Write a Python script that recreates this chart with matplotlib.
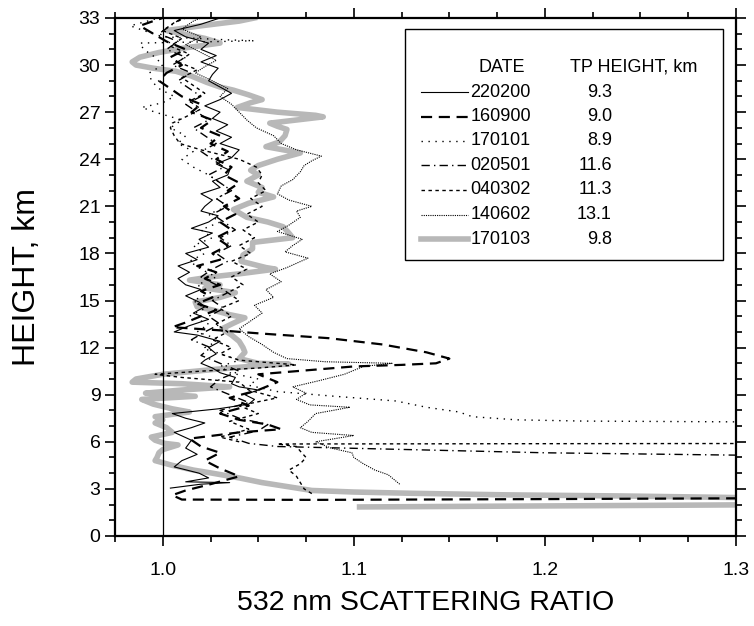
import matplotlib
matplotlib.use('Agg')
import matplotlib.pyplot as plt
from matplotlib.patches import Rectangle
from matplotlib.ticker import MultipleLocator

plt.rcParams['font.family'] = ['Liberation Sans', 'DejaVu Sans']

nan = float('nan')

dates = ['220200', '160900', '170101', '020501', '040302', '140602', '170103']
tp_heights = ['9.3', '9.0', '8.9', '11.6', '11.3', '13.1', '9.8']

# (height km, scattering ratio)
p_220200 = [(3.05, 1.004), (3.3, 1.020), (3.4, 1.035), (3.45, 1.012), (3.7, 1.024), (4.0, 1.019),
            (4.4, 1.006), (4.8, 1.010), (5.2, 1.018), (5.6, 1.012), (6.1, 1.015), (6.6, 1.006),
            (6.9, 1.015), (7.2, 1.022), (7.5, 1.012), (7.8, 1.005), (8.1, 1.029), (8.4, 1.045),
            (8.7, 1.048), (9.0, 1.043), (9.3, 1.050), (9.5, 1.040), (9.7, 1.036), (10.1, 1.038),
            (10.4, 1.030), (10.7, 1.026), (11.0, 1.020), (11.2, 1.022), (11.6, 1.028), (12.0, 1.024),
            (12.4, 1.030), (12.8, 1.018), (13.0, 1.006), (13.4, 1.014), (13.8, 1.024), (14.2, 1.016),
            (14.6, 1.022), (14.9, 1.019), (15.3, 1.012), (15.7, 1.020), (16.0, 1.012), (16.4, 1.008),
            (16.8, 1.014), (17.2, 1.008), (17.6, 1.018), (18.0, 1.012), (18.4, 1.024), (18.9, 1.019),
            (19.3, 1.026), (19.6, 1.015), (20.0, 1.024), (20.4, 1.029), (20.7, 1.020), (21.0, 1.022),
            (21.4, 1.026), (21.8, 1.020), (22.2, 1.030), (22.6, 1.026), (23.0, 1.034), (23.3, 1.035),
            (23.7, 1.028), (24.1, 1.036), (24.6, 1.040), (25.0, 1.030), (25.4, 1.036), (25.8, 1.028),
            (26.2, 1.034), (26.6, 1.026), (27.0, 1.030), (27.4, 1.022), (27.8, 1.030), (28.2, 1.036),
            (28.6, 1.030), (29.0, 1.024), (29.4, 1.026), (29.8, 1.029), (30.2, 1.020), (30.6, 1.028),
            (31.0, 1.020), (31.4, 1.024), (31.8, 1.012), (32.2, 1.006), (32.6, 1.020), (33.0, 1.030)]

p_160900 = [(2.42, 1.35), (2.40, 1.30), (2.35, 1.20), (2.30, 1.08), (2.32, 1.010), (2.6, 1.005),
            (2.9, 1.012), (3.3, 1.025), (3.8, 1.040), (4.3, 1.030), (4.8, 1.022), (5.3, 1.030),
            (5.7, 1.020), (6.2, 1.014), (6.6, 1.040), (6.8, 1.062), (7.1, 1.055), (7.4, 1.040),
            (7.8, 1.030), (8.3, 1.045), (8.8, 1.035), (9.3, 1.050), (9.8, 1.060), (10.3, 1.050),
            (10.5, 1.070), (10.8, 1.100), (10.9, 1.125), (11.0, 1.143), (11.3, 1.150), (11.7, 1.138),
            (12.2, 1.115), (12.6, 1.087), (12.9, 1.051), (13.1, 1.030), (13.3, 1.005), (13.6, 1.012),
            (14.0, 1.020), (14.4, 1.028), (14.8, 1.018), (15.2, 1.026), (15.6, 1.020), (16.0, 1.030),
            (16.4, 1.022), (16.8, 1.028), (17.2, 1.018), (17.6, 1.030), (18.0, 1.026), (18.5, 1.034),
            (19.0, 1.028), (19.5, 1.036), (20.0, 1.030), (20.5, 1.038), (21.0, 1.032), (21.5, 1.040),
            (22.0, 1.034), (22.5, 1.040), (23.0, 1.032), (23.5, 1.036), (24.0, 1.028), (24.5, 1.034),
            (25.0, 1.025), (25.5, 1.030), (26.0, 1.020), (26.5, 1.026), (27.0, 1.015), (27.5, 1.020),
            (28.0, 1.010), (28.5, 1.004), (29.0, 0.998), (29.5, 1.002), (30.0, 1.010), (30.5, 1.004),
            (31.0, 1.012), (31.5, 1.002), (32.0, 0.995), (32.5, 0.988), (32.8, 0.995), (33.0, 1.000)]

p_170101 = [(7.25, 1.40), (7.27, 1.30), (7.32, 1.22), (7.4, 1.185), (7.6, 1.162), (7.9, 1.155),
            (8.2, 1.138), (8.6, 1.122), (8.9, 1.090), (9.2, 1.060), (9.6, 1.045), (10.0, 1.050),
            (10.4, 1.035), (10.8, 1.030), (11.2, 1.040), (11.6, 1.030), (12.0, 1.022), (12.5, 1.030),
            (13.0, 1.018), (13.5, 1.024), (14.0, 1.014), (14.5, 1.022), (15.0, 1.016), (15.5, 1.025),
            (16.0, 1.018), (16.5, 1.028), (17.0, 1.020), (17.5, 1.014), (18.0, 1.022), (18.5, 1.016),
            (19.0, 1.026), (19.5, 1.020), (20.0, 1.030), (20.5, 1.024), (21.0, 1.034), (21.5, 1.028),
            (22.0, 1.036), (22.5, 1.030), (23.0, 1.024), (23.5, 1.016), (24.0, 1.010), (24.5, 1.016),
            (25.0, 1.008), (25.5, 1.012), (26.0, 1.004), (26.5, 1.010), (27.0, 0.996), (27.3, 0.989),
            (27.6, 1.000), (28.0, 1.006), (28.5, 0.998), (29.0, 0.994), (29.5, 0.993), (30.0, 1.000),
            (30.5, 0.996), (31.0, 0.990), (31.4, 0.988), (31.5, 1.030), (31.55, 1.048), (31.6, 1.035),
            (31.8, 1.000), (32.2, 0.990), (32.5, 0.983), (32.8, 0.992), (33.0, 0.998)]

p_020501 = [(5.10, 1.40), (5.15, 1.30), (5.30, 1.20), (5.50, 1.13), (5.70, 1.06), (5.90, 1.045),
            (6.3, 1.035), (6.7, 1.050), (7.1, 1.055), (7.5, 1.040), (8.0, 1.030), (8.5, 1.045),
            (9.0, 1.035), (9.5, 1.025), (10.0, 1.030), (10.5, 1.040), (11.0, 1.030), (11.5, 1.020),
            (12.0, 1.025), (12.5, 1.015), (13.0, 1.022), (13.5, 1.030), (14.0, 1.024), (14.5, 1.032),
            (15.0, 1.026), (15.5, 1.034), (16.0, 1.028), (16.5, 1.020), (17.0, 1.026), (17.5, 1.034),
            (18.0, 1.028), (18.5, 1.036), (19.0, 1.030), (19.5, 1.038), (20.0, 1.032), (20.5, 1.026),
            (21.0, 1.034), (21.5, 1.028), (22.0, 1.036), (22.5, 1.030), (23.0, 1.024), (23.5, 1.032),
            (24.0, 1.026), (24.5, 1.020), (25.0, 1.028), (25.5, 1.022), (26.0, 1.016), (26.5, 1.024),
            (27.0, 1.018), (27.5, 1.012), (28.0, 1.020), (28.5, 1.014), (29.0, 1.008), (29.5, 1.015),
            (30.0, 1.005), (30.5, 1.012), (31.0, 1.002), (31.5, 1.008), (32.0, 0.998), (32.5, 1.004),
            (33.0, 1.010)]

# gap (nan) after the low cloud tail at 5.9 km
p_040302 = [(2.7, 1.078), (3.0, 1.074), (3.4, 1.072), (3.8, 1.070), (4.2, 1.066), (4.6, 1.072),
            (5.0, 1.075), (5.4, 1.072), (5.7, 1.070), (5.86, 1.06), (5.88, 1.20), (5.90, 1.40),
            (nan, nan), (6.0, 1.040), (6.3, 1.030), (6.8, 1.045), (7.3, 1.035), (7.8, 1.050),
            (8.3, 1.040), (8.8, 1.060), (9.3, 1.045), (9.8, 1.040), (10.1, 1.010), (10.3, 0.996),
            (10.5, 1.020), (10.7, 1.050), (10.9, 1.070), (11.2, 1.040), (11.6, 1.030), (12.0, 1.036),
            (12.5, 1.026), (13.0, 1.034), (13.5, 1.028), (14.0, 1.036), (14.5, 1.030), (15.0, 1.040),
            (15.5, 1.034), (16.0, 1.042), (16.5, 1.036), (17.0, 1.044), (17.5, 1.036), (18.0, 1.046),
            (18.5, 1.040), (19.0, 1.048), (19.5, 1.042), (20.0, 1.050), (20.5, 1.044), (21.0, 1.052),
            (21.5, 1.046), (22.0, 1.054), (22.5, 1.050), (23.0, 1.052), (23.5, 1.049), (24.0, 1.040),
            (24.3, 1.030), (24.6, 1.020), (25.0, 1.009), (25.5, 1.006), (26.0, 1.004), (26.3, 1.005),
            (26.7, 1.012), (27.2, 1.020), (27.7, 1.014), (28.2, 1.022), (28.7, 1.016), (29.2, 1.010),
            (29.7, 1.018), (30.2, 1.008), (30.7, 1.014), (31.2, 1.004), (31.7, 1.010), (32.2, 1.000),
            (32.7, 1.006), (33.0, 1.012)]

p_140602 = [(3.3, 1.124), (3.6, 1.121), (3.9, 1.118), (4.2, 1.111), (4.6, 1.105), (5.0, 1.100),
            (5.3, 1.099), (5.6, 1.088), (6.0, 1.080), (6.4, 1.100), (6.6, 1.078), (6.9, 1.072),
            (7.3, 1.076), (7.8, 1.080), (8.2, 1.098), (8.35, 1.077), (8.7, 1.070), (9.1, 1.075),
            (9.5, 1.068), (9.9, 1.082), (10.3, 1.095), (10.8, 1.105), (11.0, 1.120), (11.1, 1.085),
            (11.3, 1.065), (11.7, 1.058), (12.2, 1.052), (12.7, 1.045), (13.2, 1.040), (13.7, 1.046),
            (14.2, 1.052), (14.7, 1.048), (15.2, 1.058), (15.7, 1.054), (16.2, 1.062), (16.7, 1.056),
            (17.1, 1.065), (17.7, 1.076), (18.1, 1.064), (18.5, 1.068), (18.9, 1.073), (19.4, 1.060),
            (19.8, 1.066), (20.3, 1.072), (20.7, 1.070), (21.0, 1.078), (21.4, 1.066), (21.8, 1.060),
            (22.3, 1.062), (22.7, 1.068), (23.2, 1.072), (23.6, 1.074), (23.9, 1.078), (24.2, 1.083),
            (24.6, 1.070), (25.0, 1.062), (25.5, 1.058), (26.0, 1.049), (26.5, 1.044), (27.0, 1.040),
            (27.5, 1.036), (28.0, 1.030), (28.5, 1.034), (29.0, 1.026), (29.5, 1.017), (29.9, 1.022),
            (30.3, 1.028), (30.8, 1.020), (31.3, 1.012), (31.8, 1.020), (32.3, 1.010), (32.8, 1.016),
            (33.0, 1.020)]

p_170103 = [(1.85, 1.103), (1.98, 1.300), (1.95, 1.360), (2.40, 1.360), (2.45, 1.300), (2.55, 1.240),
            (2.62, 1.180), (2.72, 1.130), (2.8, 1.100), (2.9, 1.078), (3.15, 1.065), (3.4, 1.052),
            (3.7, 1.040), (4.0, 1.026), (4.2, 1.016), (4.5, 1.005), (4.8, 0.996), (5.0, 0.997),
            (5.3, 0.998), (5.5, 1.000), (5.8, 1.008), (5.9, 1.001), (6.1, 0.996), (6.3, 0.994),
            (6.6, 1.005), (6.9, 1.002), (7.2, 0.996), (7.4, 1.000), (7.6, 0.996), (7.9, 1.014),
            (8.1, 1.005), (8.4, 0.995), (8.7, 0.989), (8.9, 1.017), (9.1, 0.991), (9.3, 1.010),
            (9.5, 1.035), (9.7, 1.010), (9.8, 0.984), (10.0, 0.986), (10.3, 1.000), (10.6, 1.026),
            (10.85, 1.050), (10.95, 1.066), (11.0, 1.050), (11.3, 1.040), (11.7, 1.043), (12.0, 1.042),
            (12.4, 1.040), (12.8, 1.036), (13.2, 1.031), (13.5, 1.036), (13.9, 1.043), (14.1, 1.035),
            (14.4, 1.026), (14.6, 1.018), (14.9, 1.017), (15.2, 1.030), (15.5, 1.038), (15.8, 1.022),
            (16.0, 1.030), (16.3, 1.014), (16.5, 1.025), (16.7, 1.040), (17.0, 1.059), (17.1, 1.054),
            (17.5, 1.041), (17.9, 1.042), (18.3, 1.047), (18.7, 1.047), (19.0, 1.068), (19.3, 1.066),
            (19.7, 1.063), (20.0, 1.055), (20.3, 1.044), (20.8, 1.037), (21.2, 1.045), (21.6, 1.058),
            (21.9, 1.050), (22.2, 1.052), (22.6, 1.044), (23.0, 1.050), (23.3, 1.046), (23.6, 1.050),
            (24.0, 1.060), (24.4, 1.072), (24.8, 1.054), (25.1, 1.061), (25.5, 1.064), (25.9, 1.065),
            (26.1, 1.060), (26.3, 1.056), (26.5, 1.070), (26.7, 1.084), (26.8, 1.080), (27.0, 1.060),
            (27.3, 1.039), (27.6, 1.046), (27.8, 1.052), (28.1, 1.045), (28.4, 1.037), (28.6, 1.030),
            (28.9, 1.023), (29.3, 1.015), (29.6, 1.007), (29.8, 0.995), (30.0, 0.986), (30.2, 0.984),
            (30.5, 0.988), (30.8, 0.998), (31.1, 1.012), (31.4, 1.030), (31.7, 1.022), (32.0, 1.010),
            (32.2, 1.002), (32.5, 1.020), (32.8, 1.040), (33.0, 1.048)]

profiles = [p_220200, p_160900, p_170101, p_020501, p_040302, p_140602, p_170103]
styles = [
    dict(color='black', lw=0.8, ls='-'),
    dict(color='black', lw=1.6, ls=(0, (5, 3))),
    dict(color='black', lw=1.0, ls=(0, (1, 4))),
    dict(color='black', lw=1.0, ls=(0, (6, 3, 1, 3))),
    dict(color='black', lw=1.0, ls=(0, (2.5, 2.5))),
    dict(color='black', lw=0.8, ls=(0, (1, 1))),
    dict(color='#b8b8b8', lw=4.0, ls='-'),
]

fig = plt.figure(figsize=(7.54, 6.26), dpi=100)
ax = fig.add_axes([0.1525, 0.1438, 0.8236, 0.8275])

for prof, st in zip(profiles, styles):
    h = [p[0] for p in prof]
    sr = [p[1] for p in prof]
    z = 1 if st['color'] != 'black' else 2
    ax.plot(sr, h, color=st['color'], lw=st['lw'], linestyle=st['ls'], zorder=z)

ax.axvline(1.0, color='black', lw=0.9, zorder=3)

ax.set_xlim(0.975, 1.3)
ax.set_ylim(0, 33)
ax.xaxis.set_major_locator(MultipleLocator(0.1))
ax.xaxis.set_minor_locator(MultipleLocator(0.025))
ax.yaxis.set_major_locator(MultipleLocator(3))
ax.yaxis.set_minor_locator(MultipleLocator(1))
ax.xaxis.set_major_formatter(plt.FuncFormatter(lambda v, p: f'{v:.1f}'))
ax.tick_params(which='both', direction='out', top=True, right=True, width=1.2, labelsize=14)
ax.tick_params(which='major', length=7)
ax.tick_params(which='minor', length=4)
ax.tick_params(axis='x', which='major', pad=12)
for s in ax.spines.values():
    s.set_linewidth(1.6)

ax.set_xlabel('532 nm SCATTERING RATIO', fontsize=20.5, labelpad=8)
ax.set_ylabel('HEIGHT, km', fontsize=23, labelpad=26)

# legend box drawn by hand: dates and tropopause heights in two columns
ax.add_patch(Rectangle((0.467, 0.533), 0.512, 0.446, transform=ax.transAxes,
                       facecolor='white', edgecolor='black', lw=1.0, zorder=5))
fs = 13
ax.text(0.623, 0.905, 'DATE', transform=ax.transAxes, ha='center', va='center', fontsize=fs, zorder=6)
ax.text(0.733, 0.905, 'TP HEIGHT, km', transform=ax.transAxes, ha='left', va='center', fontsize=fs, zorder=6)
row_y = [0.857, 0.809, 0.763, 0.716, 0.668, 0.620, 0.573]
for y, d, tp, st in zip(row_y, dates, tp_heights, styles):
    ax.plot([0.493, 0.568], [y, y], transform=ax.transAxes, color=st['color'],
            lw=st['lw'], linestyle=st['ls'], zorder=6)
    ax.text(0.572, y, d, transform=ax.transAxes, ha='left', va='center', fontsize=fs, zorder=6)
    ax.text(0.800, y, tp, transform=ax.transAxes, ha='right', va='center', fontsize=fs, zorder=6)

fig.savefig('out.png', dpi=100)
